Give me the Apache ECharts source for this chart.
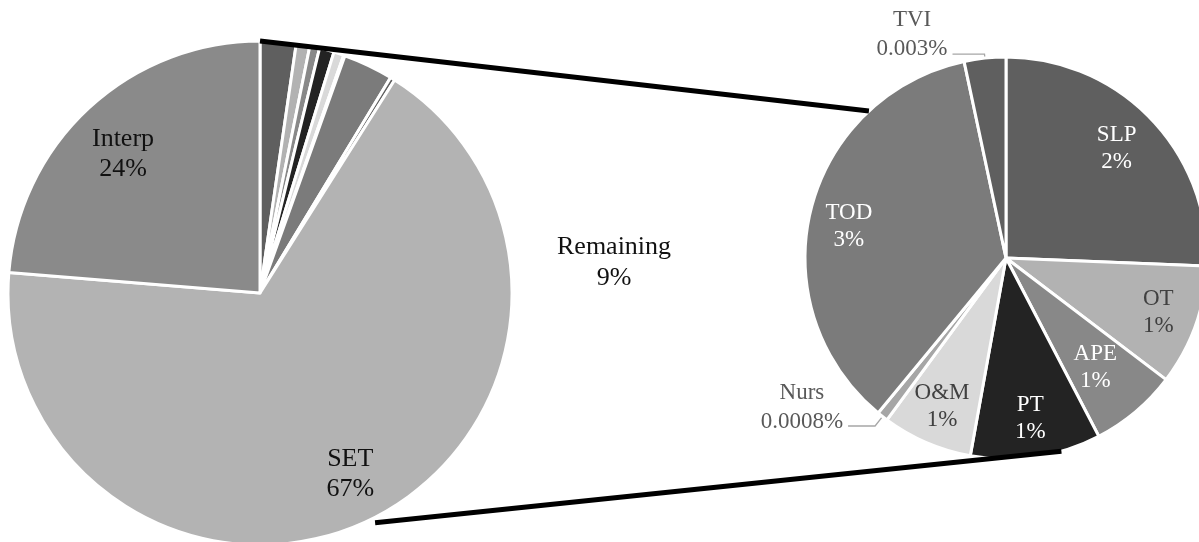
<!DOCTYPE html>
<html>
<head>
<meta charset="utf-8">
<script src="https://cdn.jsdelivr.net/npm/echarts@6/dist/echarts.min.js"></script>
<style>
  html, body { margin: 0; padding: 0; background: #ffffff; }
  #chart { width: 1199px; height: 542px; }
</style>
</head>
<body>
<div id="chart"></div>
<script>
// Breakdown of the "Remaining" share, in percent of the whole
const detailNames  = ['SLP', 'OT', 'APE', 'PT', 'O&M', 'Nurs', 'TOD', 'TVI'];
const detailValues = [2.3, 0.87, 0.63, 0.94, 0.65, 0.08, 3.2, 0.3];
const detailLabels = ['2%', '1%', '1%', '1%', '1%', '0.0008%', '3%', '0.003%'];
const detailColors = ['#5f5f5f', '#b2b2b2', '#888888', '#232323', '#d9d9d9', '#a6a6a6', '#7b7b7b', '#5f5f5f'];
const detailTextColors = ['#ffffff', '#404040', '#ffffff', '#ffffff', '#404040', '#595959', '#ffffff', '#595959'];
// Names whose labels sit outside the small pie with a leader line
const outsideNames = ['Nurs', 'TVI'];

// Main categories
const mainNames  = ['SET', 'Interp'];
const mainValues = [67.3, 23.7];
const mainLabels = ['67%', '24%'];
const mainColors = ['#b3b3b3', '#8a8a8a'];

// Caption for the grouped share
const remainingText = ['Remaining', '9%'];

const FONT = "'Liberation Serif', 'Times New Roman', serif";

// Pie geometry (pixels)
const mainPie   = { cx: 260,  cy: 293, r: 252 };
const detailPie = { cx: 1006, cy: 258, r: 201 };
// Inner radius of the transparent label ring: inside labels land at (1 + k) / 2 of the radius
const labelRing = 0.58;
// Small hand adjustments of individual inside labels [dx, dy]
const labelNudge = { Interp: [0, 10], TOD: [0, 7], APE: [-15, -14], SLP: [-6, 3] };
// Leader-line settings of the outside labels
const outsideLayout = {
  Nurs: { length: 12, length2: 27, padBottom: 38 },
  TVI:  { length: 4,  length2: 32, padBottom: 40 }
};

// Connector lines between the pies: angle on each pie (degrees clockwise from 12 o'clock)
const connectors = [
  { fromAngle: 0,     fromK: 1.0,  toAngle: 317, toK: 1.0 },
  { fromAngle: 153.4, fromK: 1.02, toAngle: 164, toK: 1.0 }
];

function polar(p, angleDeg, k) {
  const a = angleDeg * Math.PI / 180;
  return [p.cx + p.r * k * Math.sin(a), p.cy - p.r * k * Math.cos(a)];
}

function insideLabel(name, text, color) {
  const lab = { show: true, formatter: text, color: color };
  if (labelNudge[name]) lab.offset = labelNudge[name];
  return lab;
}

const chart = echarts.init(document.getElementById('chart'), null, { renderer: 'canvas' });

// ---- Left pie: every detail slice plus the main categories ----
const leftData = detailNames.map((n, i) => ({
  name: n, value: detailValues[i], itemStyle: { color: detailColors[i] }
})).concat(mainNames.map((n, i) => ({
  name: n, value: mainValues[i], itemStyle: { color: mainColors[i] }
})));

const leftLabelData = detailNames.map((n, i) => ({
  name: n, value: detailValues[i], label: { show: false }
})).concat(mainNames.map((n, i) => ({
  name: n, value: mainValues[i],
  label: insideLabel(n, n + '\n' + mainLabels[i], '#111111')
})));

// ---- Right pie: the detail breakdown ----
const rightData = detailNames.map((n, i) => {
  const item = { name: n, value: detailValues[i], itemStyle: { color: detailColors[i] } };
  const lay = outsideLayout[n];
  if (lay) {
    item.label = {
      show: true,
      position: 'outside',
      formatter: '{c|' + n + '}\n{c|' + detailLabels[i] + '}',
      padding: [0, 0, lay.padBottom, 0],
      rich: {
        c: { align: 'center', fontFamily: FONT, fontSize: 23, lineHeight: 29, color: detailTextColors[i] }
      }
    };
    item.labelLine = {
      show: true,
      length: lay.length,
      length2: lay.length2,
      lineStyle: { color: '#a6a6a6', width: 1.3 }
    };
  }
  return item;
});

const rightLabelData = detailNames.map((n, i) => ({
  name: n, value: detailValues[i],
  label: outsideNames.indexOf(n) >= 0
    ? { show: false }
    : insideLabel(n, n + '\n' + detailLabels[i], detailTextColors[i])
}));

const transparentItem = { color: 'rgba(0,0,0,0)', borderWidth: 0 };

// Connector lines drawn from the pie geometry
const connectorGraphics = connectors.map(c => {
  const a = polar(mainPie, c.fromAngle, c.fromK);
  const b = polar(detailPie, c.toAngle, c.toK);
  return {
    type: 'line',
    z: 100,
    shape: { x1: a[0], y1: a[1], x2: b[0], y2: b[1] },
    style: { stroke: '#000000', lineWidth: 5, lineCap: 'butt' },
    silent: true
  };
});

const option = {
  animation: false,
  backgroundColor: '#ffffff',
  graphic: connectorGraphics.concat([{
    type: 'text',
    left: 557,
    top: 234,
    z: 100,
    style: {
      text: remainingText.map(t => '{c|' + t + '}').join('\n'),
      rich: {
        c: { align: 'center', fontFamily: FONT, fontSize: 26, lineHeight: 31, fill: '#111111', color: '#111111' }
      }
    }
  }]),
  series: [
    {
      type: 'pie',
      center: [mainPie.cx, mainPie.cy],
      radius: [0, mainPie.r],
      startAngle: 90,
      clockwise: true,
      silent: true,
      avoidLabelOverlap: false,
      itemStyle: { borderColor: '#ffffff', borderWidth: 3 },
      label: { show: false },
      labelLine: { show: false },
      emphasis: { disabled: true },
      data: leftData
    },
    {
      type: 'pie',
      center: [mainPie.cx, mainPie.cy],
      radius: [mainPie.r * labelRing, mainPie.r],
      startAngle: 90,
      clockwise: true,
      silent: true,
      z: 5,
      avoidLabelOverlap: false,
      itemStyle: transparentItem,
      label: {
        position: 'inside',
        fontFamily: FONT,
        fontSize: 26,
        lineHeight: 30,
        color: '#111111'
      },
      labelLine: { show: false },
      emphasis: { disabled: true },
      data: leftLabelData
    },
    {
      type: 'pie',
      center: [detailPie.cx, detailPie.cy],
      radius: [0, detailPie.r],
      startAngle: 90,
      clockwise: true,
      silent: true,
      avoidLabelOverlap: false,
      itemStyle: { borderColor: '#ffffff', borderWidth: 3 },
      label: { show: false },
      labelLine: { show: false },
      emphasis: { disabled: true },
      data: rightData
    },
    {
      type: 'pie',
      center: [detailPie.cx, detailPie.cy],
      radius: [detailPie.r * labelRing, detailPie.r],
      startAngle: 90,
      clockwise: true,
      silent: true,
      z: 5,
      avoidLabelOverlap: false,
      itemStyle: transparentItem,
      label: {
        position: 'inside',
        fontFamily: FONT,
        fontSize: 23,
        lineHeight: 27
      },
      labelLine: { show: false },
      emphasis: { disabled: true },
      data: rightLabelData
    }
  ]
};

chart.setOption(option);
</script>
</body>
</html>
